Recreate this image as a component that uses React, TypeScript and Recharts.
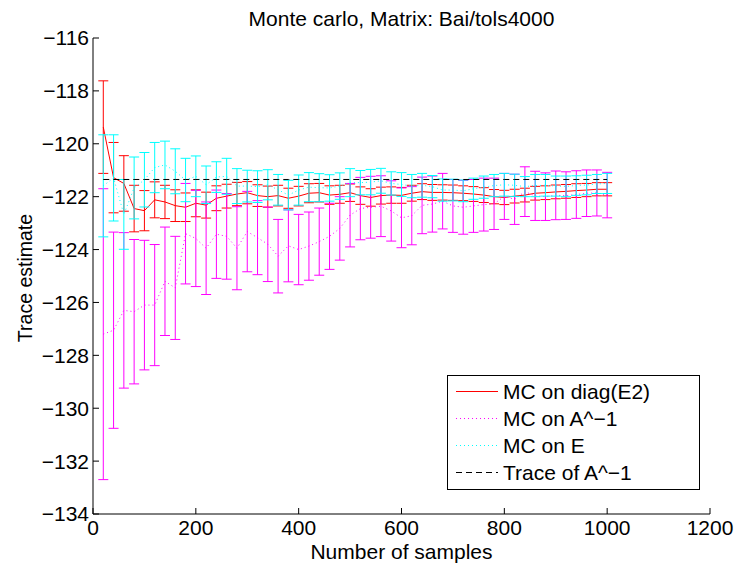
import { LineChart, Line, XAxis, YAxis, ErrorBar } from 'recharts';

const FONT = '"Liberation Sans", Arial, Helvetica, sans-serif';
const FS = 21;

// number of samples
const samples = [
    20, 40, 60, 80, 100, 120, 140, 160, 180, 200,
    220, 240, 260, 280, 300, 320, 340, 360, 380, 400,
    420, 440, 460, 480, 500, 520, 540, 560, 580, 600,
    620, 640, 660, 680, 700, 720, 740, 760, 780, 800,
    820, 840, 860, 880, 900, 920, 940, 960, 980, 1000,
];

// MC on diag(E2)
const diagMean = [
    -119.37, -121.28, -121.5, -122.45, -122.53, -122.12, -122.2, -122.34, -122.4, -122.25,
    -122.32, -122.06, -121.98, -121.9, -121.85, -121.96, -122.0, -121.96, -122.06, -121.98,
    -121.87, -121.85, -121.94, -121.91, -121.85, -121.96, -122.03, -121.96, -121.94, -121.95,
    -121.87, -121.81, -121.84, -121.84, -121.85, -121.87, -121.9, -121.94, -122.0, -122.03,
    -121.98, -121.94, -121.87, -121.85, -121.82, -121.8, -121.77, -121.75, -121.72, -121.72,
];
const diagErr = [
    1.75, 1.33, 1.05, 0.88, 0.76, 0.68, 0.63, 0.6, 0.54, 0.51,
    0.49, 0.47, 0.45, 0.44, 0.42, 0.41, 0.4, 0.39, 0.38, 0.37,
    0.36, 0.35, 0.35, 0.34, 0.33, 0.33, 0.33, 0.32, 0.31, 0.3,
    0.3, 0.3, 0.3, 0.29, 0.29, 0.28, 0.28, 0.28, 0.27, 0.27,
    0.26, 0.26, 0.26, 0.26, 0.26, 0.26, 0.26, 0.25, 0.25, 0.25,
];

// MC on A^-1
const invMean = [
    -127.2, -127.05, -126.3, -126.35, -126.1, -126.1, -125.2, -125.45, -123.4, -123.58,
    -123.95, -123.42, -123.5, -123.95, -123.32, -123.55, -123.8, -124.25, -123.86, -124.0,
    -123.87, -123.7, -123.5, -123.2, -122.7, -122.45, -122.4, -122.36, -122.54, -122.8,
    -122.72, -122.33, -122.28, -122.17, -122.35, -122.4, -122.35, -122.3, -122.27, -121.99,
    -122.1, -121.81, -121.97, -122.0, -121.95, -121.96, -121.92, -121.87, -121.86, -121.94,
];
const invErr = [
    5.5, 3.71, 2.94, 2.73, 2.45, 2.29, 2.05, 1.95, 1.9, 1.82,
    1.75, 1.67, 1.62, 1.57, 1.52, 1.4, 1.41, 1.39, 1.36, 1.33,
    1.29, 1.27, 1.25, 1.2, 1.2, 1.18, 1.17, 1.15, 1.14, 1.13,
    1.1, 1.07, 1.06, 1.05, 1.0, 1.02, 1.0, 1.0, 0.97, 0.87,
    0.95, 0.94, 0.93, 0.9, 0.92, 0.9, 0.9, 0.88, 0.87, 0.86,
];

// MC on E
const eMean = [
    -121.59, -121.29, -122.67, -121.67, -121.36, -120.9, -120.8, -121.04, -121.37, -121.23,
    -121.55, -121.26, -121.23, -121.6, -121.6, -121.62, -121.55, -121.74, -121.94, -121.75,
    -121.64, -121.66, -121.67, -121.6, -121.47, -121.47, -121.45, -121.4, -121.5, -121.54,
    -121.6, -121.57, -121.62, -121.75, -121.75, -121.78, -121.7, -121.64, -121.58, -121.55,
    -121.57, -121.62, -121.58, -121.57, -121.6, -121.61, -121.58, -121.56, -121.52, -121.5,
];
const eErr = [
    1.93, 1.63, 1.32, 1.17, 1.03, 0.95, 0.9, 0.85, 0.82, 0.77,
    0.71, 0.58, 0.68, 0.66, 0.6, 0.6, 0.57, 0.58, 0.56, 0.57,
    0.55, 0.53, 0.5, 0.5, 0.53, 0.46, 0.48, 0.47, 0.44, 0.45,
    0.44, 0.45, 0.42, 0.42, 0.41, 0.41, 0.4, 0.42, 0.42, 0.43,
    0.42, 0.38, 0.42, 0.41, 0.38, 0.39, 0.37, 0.37, 0.36, 0.38,
];

// Trace of A^-1
const traceOfInverse = -121.35;

const xTicks = [0, 200, 400, 600, 800, 1000, 1200];
const yTicks = [-134, -132, -130, -128, -126, -124, -122, -120, -118, -116];

const rows = samples.map((n, i) => ({
    n,
    diagMean: diagMean[i],
    diagErr: diagErr[i],
    invMean: invMean[i],
    invErr: invErr[i],
    eMean: eMean[i],
    eErr: eErr[i],
    trace: traceOfInverse,
}));

const legendItems = [
    { label: 'MC on diag(E2)', color: '#ff0000', dash: undefined },
    { label: 'MC on A^\u22121', color: '#ff00ff', dash: '1 3' },
    { label: 'MC on E', color: '#00ffff', dash: '1 3' },
    { label: 'Trace of A^\u22121', color: '#000000', dash: '6 4' },
];

const fmt = (v: number) => String(v).replace('-', '\u2212');
const tickStyle = { fill: '#000', fontSize: FS, fontFamily: FONT };

export default function App() {
    return (
        <div style={{ position: 'absolute', left: 0, top: 0, width: 738, height: 565, background: '#fff', fontFamily: FONT, color: '#000' }}>
            <LineChart width={738} height={565} data={rows} margin={{ top: 38, right: 28, bottom: 0, left: 0 }}>
                <XAxis dataKey="n" type="number" domain={[0, 1200]} ticks={xTicks} interval={0} height={51}
                    tickSize={-6} tickMargin={12} stroke="#000" tick={tickStyle} />
                <XAxis xAxisId="top" orientation="top" dataKey="n" type="number" domain={[0, 1200]} ticks={xTicks}
                    interval={0} height={0} tickSize={-6} tick={false} stroke="#000" />
                <YAxis type="number" domain={[-134, -116]} ticks={yTicks} interval={0} width={93}
                    tickSize={-6} tickMargin={10} stroke="#000" tick={tickStyle} tickFormatter={fmt} />
                <YAxis yAxisId="right" orientation="right" type="number" domain={[-134, -116]} ticks={yTicks}
                    interval={0} width={0} tickSize={-6} tick={false} stroke="#000" />

                <Line dataKey="diagMean" stroke="#ff0000" strokeWidth={1} dot={false} activeDot={false} isAnimationActive={false}>
                    <ErrorBar dataKey="diagErr" width={5} stroke="#ff0000" strokeWidth={1} isAnimationActive={false} />
                </Line>
                <Line dataKey="invMean" stroke="#ff00ff" strokeWidth={1} strokeDasharray="1 3" dot={false} activeDot={false} isAnimationActive={false}>
                    <ErrorBar dataKey="invErr" width={5} stroke="#ff00ff" strokeWidth={1} isAnimationActive={false} />
                </Line>
                <Line dataKey="eMean" stroke="#00ffff" strokeWidth={1} strokeDasharray="1 3" dot={false} activeDot={false} isAnimationActive={false}>
                    <ErrorBar dataKey="eErr" width={5} stroke="#00ffff" strokeWidth={1} isAnimationActive={false} />
                </Line>
                <Line dataKey="trace" stroke="#000" strokeWidth={1} strokeDasharray="6 4" dot={false} activeDot={false} isAnimationActive={false} />
            </LineChart>

            <div style={{ position: 'absolute', left: 93, width: 617, top: 8, textAlign: 'center', fontSize: FS, lineHeight: '22px' }}>
                Monte carlo, Matrix: Bai/tols4000
            </div>
            <div style={{ position: 'absolute', left: 93, width: 617, top: 541, textAlign: 'center', fontSize: FS, lineHeight: '21px' }}>
                Number of samples
            </div>
            <div style={{ position: 'absolute', left: 25, top: 278, transform: 'translate(-50%, -50%) rotate(-90deg)', whiteSpace: 'nowrap', fontSize: 19.5, lineHeight: '20px' }}>
                Trace estimate
            </div>

            <div style={{ position: 'absolute', left: 447, top: 375, width: 251, height: 111, border: '1px solid #000', background: '#fff', paddingTop: 2, boxSizing: 'content-box' }}>
                {legendItems.map((it) => (
                    <div key={it.label} style={{ position: 'relative', height: 27, fontSize: FS, lineHeight: '27px' }}>
                        <svg width={42} height={27} style={{ position: 'absolute', left: 8, top: 0 }}>
                            <line x1={0} y1={13.5} x2={42} y2={13.5} stroke={it.color} strokeWidth={1} strokeDasharray={it.dash} />
                        </svg>
                        <span style={{ position: 'absolute', left: 55, top: 0, whiteSpace: 'nowrap' }}>{it.label}</span>
                    </div>
                ))}
            </div>
        </div>
    );
}
